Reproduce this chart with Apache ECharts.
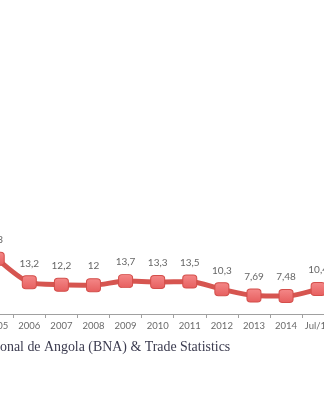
<!DOCTYPE html>
<html><head><meta charset="utf-8">
<script src="https://cdn.jsdelivr.net/npm/echarts@6/dist/echarts.min.js"></script>
<style>html,body{margin:0;padding:0;background:#fff}#c{width:324px;height:400px}</style>
</head><body><div id="c"></div>
<script>
var categories = ['2005','2006','2007','2008','2009','2010','2011','2012','2013','2014','Jul/14'];
var inflation = [23, 13.2, 12.2, 12, 13.7, 13.3, 13.5, 10.3, 7.69, 7.48, 10.4];
var sourceText = 'onal de Angola (BNA) & Trade Statistics';

var chart = echarts.init(document.getElementById('c'));
chart.setOption({
  animation: false,
  grid: {left: -18.85, right: -10.2, top: 2, bottom: 86, containLabel: false, outerBoundsMode: 'none'},
  xAxis: {
    type: 'category', data: categories, boundaryGap: true,
    axisLine: {lineStyle: {color: '#a0a0a0', width: 1}},
    axisTick: {show: true, length: 4, lineStyle: {color: '#a0a0a0'}},
    axisLabel: {color: '#6a6a6a', fontSize: 9.5, fontFamily: 'Lato', margin: 7, interval: 0}
  },
  yAxis: {type: 'value', min: 0, max: 130, show: false, splitLine: {show: false}},
  series: [{
    type: 'line', data: inflation, smooth: 0.25,
    lineStyle: {color: '#d65550', width: 5},
    symbol: 'roundRect', symbolSize: [14, 13],
    itemStyle: {
      color: new echarts.graphic.LinearGradient(0, 0, 0, 1, [
        {offset: 0, color: '#f48888'}, {offset: 1, color: '#e65e5e'}]),
      borderColor: '#d44f4b', borderWidth: 1
    },
    label: {
      show: true, position: 'top', distance: 7, color: '#666666',
      fontSize: 10, fontFamily: 'Lato',
      formatter: function (p) { return String(p.value).replace('.', ','); }
    }
  }],
  graphic: [{
    type: 'text', left: 0, top: 340,
    style: {text: sourceText, fill: '#3b3b4f', font: '13.9px "Liberation Serif"'}
  }]
});
</script></body></html>
